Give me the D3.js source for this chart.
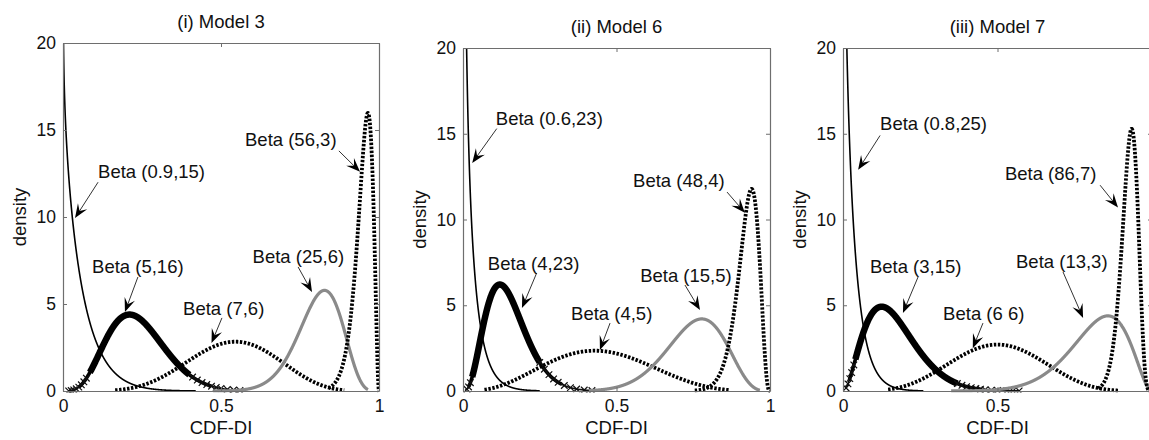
<!DOCTYPE html>
<html>
<head>
<meta charset="utf-8">
<script src="https://cdn.jsdelivr.net/npm/d3@7"></script>
<style>
  html, body { margin: 0; padding: 0; background: #fff; }
  svg { display: block; font-family: "Liberation Sans", Arial, sans-serif; }
</style>
</head>
<body>
<svg id="chart" width="1149" height="440"></svg>
<script>
// ---- data -------------------------------------------------------------
const panelTitles = ["(i) Model 3", "(ii) Model 6", "(iii) Model 7"];
const xTickValues = [0, 0.5, 1];
const xTickLabels = ["0", "0.5", "1"];
const yTickValues = [0, 5, 10, 15, 20];
const yTickLabels = ["0", "5", "10", "15", "20"];
const xAxisLabel = "CDF-DI";
const yAxisLabel = "density";

// curve order inside every panel: thin, marker, dotted, gray, dotted
const curveStyles = ["thin", "marker", "dotted", "gray", "dotted"];

// Beta(alpha, beta) shape parameters for each panel
const alphaParams = [[0.9, 5, 7, 25, 56], [0.6, 4, 4, 15, 48], [0.8, 3, 6, 13, 86]];
const betaParams  = [[15, 16, 6, 6, 3],   [23, 23, 5, 5, 4],   [25, 15, 6, 3, 7]];

// plotted x-support of every curve
const xStart = [[0, 0.018, 0.165, 0.475, 0.84], [0, 0.013, 0.07, 0.41, 0.755], [0, 0.01, 0.146, 0.35, 0.826]];
const xEnd   = [[0.42, 0.56, 0.89, 0.965, 1],  [0.25, 0.42, 0.87, 0.967, 1],  [0.26, 0.57, 0.89, 1, 1]];

// heavy core / medium band of the marker curve and its 'x' markers on the tails
const coreStart = [0.085, 0.03, 0.04];
const coreEnd   = [0.40, 0.25, 0.37];
const midStart  = [0.05, 0.018, 0.02];
const midEnd    = [0.47, 0.32, 0.45];
const markerX = [
  [0.018, 0.026, 0.034, 0.042, 0.05, 0.058, 0.066, 0.074, 0.41, 0.425, 0.44, 0.455, 0.47, 0.485, 0.5, 0.52, 0.54, 0.56],
  [0.013, 0.018, 0.024, 0.25, 0.265, 0.28, 0.295, 0.31, 0.33, 0.35, 0.37, 0.395, 0.42],
  [0.01, 0.016, 0.022, 0.028, 0.035, 0.37, 0.385, 0.4, 0.415, 0.43, 0.445, 0.46, 0.48, 0.5, 0.53, 0.55, 0.57]
];

// annotation text, its anchor (data units) and the arrow from -> to (data units)
const labelText = [
  ["Beta (0.9,15)", "Beta (5,16)", "Beta (7,6)", "Beta (25,6)", "Beta (56,3)"],
  ["Beta (0.6,23)", "Beta (4,23)", "Beta (4,5)", "Beta (15,5)", "Beta (48,4)"],
  ["Beta (0.8,25)", "Beta (3,15)", "Beta (6 6)", "Beta (13,3)", "Beta (86,7)"]
];
const labelX = [[0.111, 0.092, 0.38, 0.60, 0.576], [0.107, 0.081, 0.352, 0.577, 0.554], [0.12, 0.087, 0.324, 0.56, 0.524]];
const labelY = [[12.24, 6.78, 4.37, 7.36, 14.08], [15.5, 7.06, 4.14, 6.36, 11.9], [15.2, 6.88, 4.14, 7.17, 12.3]];
const arrowFromX = [[0.111, 0.237, 0.503, 0.744, 0.873], [0.11, 0.24, 0.479, 0.723, 0.86], [0.12, 0.243, 0.453, 0.712, 0.832]];
const arrowFromY = [[12.0, 6.55, 4.2, 7.13, 13.8], [15.3, 6.88, 3.96, 6.18, 11.6], [14.9, 6.65, 3.96, 6.94, 12.0]];
const arrowToX = [[0.038, 0.196, 0.47, 0.788, 0.94], [0.03, 0.192, 0.446, 0.772, 0.918], [0.049, 0.194, 0.42, 0.777, 0.89]];
const arrowToY = [[9.94, 4.54, 2.76, 5.69, 12.6], [13.3, 4.84, 2.39, 4.72, 10.4], [12.9, 4.55, 2.5, 4.26, 10.7]];

// ---- layout -------------------------------------------------------------
const W = 1149, H = 440;
const panelBoxes = [
  { left: 63,  right: 379,  top: 43, bottom: 391 },
  { left: 463, right: 770,  top: 48, bottom: 391 },
  { left: 843, right: 1152, top: 48, bottom: 391 }
];
const tickFont = 17.5, textFont = 18.5;

// ---- beta density ----------------------------------------------------------
function logGamma(z) {
  const c = [0.99999999999980993, 676.5203681218851, -1259.1392167224028,
    771.32342877765313, -176.61502916214059, 12.507343278686905,
    -0.13857109526572012, 9.9843695780195716e-6, 1.5056327351493116e-7];
  if (z < 0.5) return Math.log(Math.PI / Math.sin(Math.PI * z)) - logGamma(1 - z);
  z -= 1;
  let s = c[0];
  for (let i = 1; i < 9; i++) s += c[i] / (z + i);
  const t = z + 7.5;
  return 0.5 * Math.log(2 * Math.PI) + (z + 0.5) * Math.log(t) - t + Math.log(s);
}
function betaPdf(x, a, b) {
  const xx = Math.min(Math.max(x, 5e-5), 1 - 1e-7);
  const lB = logGamma(a) + logGamma(b) - logGamma(a + b);
  return Math.exp((a - 1) * Math.log(xx) + (b - 1) * Math.log(1 - xx) - lB);
}
function densitySeries(a, b, x0, x1, n) {
  return d3.range(n + 1).map(i => {
    const xv = x0 + (x1 - x0) * i / n;
    return [xv, betaPdf(xv, a, b)];
  });
}

// ---- drawing ---------------------------------------------------------------
const svg = d3.select("#chart");
svg.append("rect").attr("width", W).attr("height", H).attr("fill", "#fff");

function drawArrow(g, sx, sy, tx, ty) {
  const ang = Math.atan2(ty - sy, tx - sx);
  const L = 14, Wd = 11;
  const cos = Math.cos(ang), sin = Math.sin(ang);
  const pt = (u, v) => [tx + u * cos - v * sin, ty + u * sin + v * cos];
  const back = pt(-L * 0.6, 0);
  g.append("line")
    .attr("x1", sx).attr("y1", sy).attr("x2", back[0]).attr("y2", back[1])
    .attr("stroke", "#333").attr("stroke-width", 1);
  const head = [pt(0, 0), pt(-L, -Wd / 2), pt(-L * 0.6, 0), pt(-L, Wd / 2)];
  g.append("path")
    .attr("d", "M" + head.map(q => q.join(",")).join("L") + "Z")
    .attr("fill", "#000");
}

panelBoxes.forEach((box, p) => {
  const x = d3.scaleLinear().domain([0, 1]).range([box.left, box.right]);
  const y = d3.scaleLinear().domain([0, 20]).range([box.bottom, box.top]);
  const g = svg.append("g");
  const clipId = "clip" + p;
  svg.append("clipPath").attr("id", clipId).append("rect")
    .attr("x", box.left).attr("y", box.top)
    .attr("width", box.right - box.left).attr("height", box.bottom - box.top + 1.5);

  const line = d3.line().x(d => x(d[0])).y(d => y(d[1]));
  const plot = g.append("g").attr("clip-path", `url(#${clipId})`);

  // axes box and ticks (inward, on all four sides); labels outside the canvas are skipped
  const tick = 4;
  g.append("g").attr("transform", `translate(0,${box.bottom})`)
    .call(d3.axisBottom(x).tickValues(xTickValues)
      .tickFormat((d, i) => (x(d) + 6 <= W ? xTickLabels[i] : ""))
      .tickSizeInner(-tick).tickSizeOuter(0).tickPadding(9));
  g.append("g").attr("transform", `translate(0,${box.top})`)
    .call(d3.axisTop(x).tickValues(xTickValues).tickFormat("")
      .tickSizeInner(-tick).tickSizeOuter(0));
  g.append("g").attr("transform", `translate(${box.left},0)`)
    .call(d3.axisLeft(y).tickValues(yTickValues).tickFormat((d, i) => yTickLabels[i])
      .tickSizeInner(-tick).tickSizeOuter(0).tickPadding(7));
  g.append("g").attr("transform", `translate(${box.right},0)`)
    .call(d3.axisRight(y).tickValues(yTickValues).tickFormat("")
      .tickSizeInner(-tick).tickSizeOuter(0));
  g.selectAll(".domain").attr("stroke", "#6e6e6e").attr("stroke-width", 1.2);
  g.selectAll(".tick line").attr("stroke", "#6e6e6e");
  g.selectAll(".tick text").attr("font-size", tickFont)
    .attr("font-family", "'Liberation Sans', Arial, sans-serif").attr("fill", "#111");

  // curves
  curveStyles.forEach((style, c) => {
    const a = alphaParams[p][c], b = betaParams[p][c];
    const data = densitySeries(a, b, xStart[p][c], xEnd[p][c], 1200);
    if (style === "thin") {
      plot.append("path").attr("d", line(data)).attr("fill", "none")
        .attr("stroke", "#000").attr("stroke-width", 1.6);
    } else if (style === "gray") {
      plot.append("path").attr("d", line(data)).attr("fill", "none")
        .attr("stroke", "#8a8a8a").attr("stroke-width", 3.2);
    } else if (style === "dotted") {
      plot.append("path").attr("d", line(data)).attr("fill", "none")
        .attr("stroke", "#000").attr("stroke-width", 3.8)
        .attr("stroke-dasharray", "2.4,1.6");
    } else {
      plot.append("path").attr("d", line(data)).attr("fill", "none")
        .attr("stroke", "#111").attr("stroke-width", 1.6);
      const mid = densitySeries(a, b, midStart[p], midEnd[p], 800);
      plot.append("path").attr("d", line(mid)).attr("fill", "none")
        .attr("stroke", "#000").attr("stroke-width", 3.6);
      const core = densitySeries(a, b, coreStart[p], coreEnd[p], 800);
      plot.append("path").attr("d", line(core)).attr("fill", "none")
        .attr("stroke", "#000").attr("stroke-width", 6.5);
      plot.selectAll(null).data(markerX[p]).join("path")
        .attr("transform", d => `translate(${x(d)},${y(betaPdf(d, a, b))})`)
        .attr("d", d3.symbol().type(d3.symbolX).size(30))
        .attr("fill", "none").attr("stroke", "#111").attr("stroke-width", 1.2);
    }
  });

  // annotations
  const ann = g.append("g");
  labelText[p].forEach((t, c) => {
    drawArrow(ann, x(arrowFromX[p][c]), y(arrowFromY[p][c]), x(arrowToX[p][c]), y(arrowToY[p][c]));
    ann.append("text").attr("x", x(labelX[p][c])).attr("y", y(labelY[p][c]))
      .attr("font-size", textFont).attr("fill", "#111").text(t);
  });

  // title and axis labels
  const cx = (box.left + box.right) / 2;
  g.append("text").attr("x", cx).attr("y", box.top - 15)
    .attr("text-anchor", "middle").attr("font-size", textFont).attr("fill", "#111")
    .text(panelTitles[p]);
  g.append("text").attr("x", cx).attr("y", 434)
    .attr("text-anchor", "middle").attr("font-size", textFont).attr("fill", "#111")
    .text(xAxisLabel);
  g.append("text")
    .attr("transform", `translate(${box.left - 37},${(box.top + box.bottom) / 2}) rotate(-90)`)
    .attr("text-anchor", "middle").attr("font-size", textFont).attr("fill", "#111")
    .text(yAxisLabel);
});
</script>
</body>
</html>
